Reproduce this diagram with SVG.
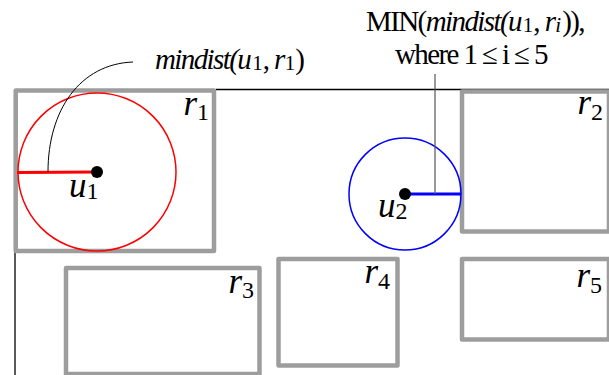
<svg xmlns="http://www.w3.org/2000/svg" width="609" height="375" viewBox="0 0 609 375">
<style>
text{font-family:"Liberation Serif","Times New Roman",serif;fill:#000}
.var{font-size:35px;font-style:italic}
.sub{font-size:24px;font-style:normal}
.lbl{font-size:29px;letter-spacing:-1.6px}
.lbl .sub{font-size:21px;letter-spacing:0}
.it{font-style:italic}
.rect{fill:none;stroke:#9d9d9d;stroke-width:4.5;stroke-linejoin:round}
.frame{stroke:#000;stroke-width:1.3;fill:none}
</style>
<rect width="609" height="375" fill="#fff"/>
<g id="frame">
<line class="frame" x1="216" y1="89.5" x2="609" y2="89.5"/>
<line class="frame" x1="15" y1="252" x2="15" y2="375"/>
</g>
<g id="r1"><rect class="rect" x="15.7" y="90.5" width="198.3" height="160.5"/>
<text class="var" x="209" y="115" text-anchor="end">r<tspan class="sub" dy="5">1</tspan></text></g>
<g id="r2"><rect class="rect" x="462" y="91.5" width="147" height="140"/>
<text class="var" x="603" y="114" text-anchor="end">r<tspan class="sub" dy="6">2</tspan></text></g>
<g id="r3"><rect class="rect" x="66" y="268" width="193.5" height="106"/>
<text class="var" x="254" y="293" text-anchor="end">r<tspan class="sub" dy="5">3</tspan></text></g>
<g id="r4"><rect class="rect" x="278.5" y="259" width="119" height="106.5"/>
<text class="var" x="390" y="283" text-anchor="end">r<tspan class="sub" dy="6">4</tspan></text></g>
<g id="r5"><rect class="rect" x="462" y="259" width="147" height="80.5"/>
<text class="var" x="602" y="287" text-anchor="end">r<tspan class="sub" dy="6">5</tspan></text></g>
<g id="u1">
<circle cx="97" cy="172" r="79" fill="none" stroke="#f00" stroke-width="1.5"/>
<line x1="17" y1="172.5" x2="97" y2="172" stroke="#f00" stroke-width="3"/>
<circle cx="97" cy="172" r="6" fill="#000"/>
<text class="var" x="69" y="197">u<tspan class="sub" dy="2">1</tspan></text>
</g>
<g id="u2">
<circle cx="405" cy="194" r="56" fill="none" stroke="#00f" stroke-width="1.5"/>
<line x1="405" y1="194" x2="461" y2="194" stroke="#00f" stroke-width="3"/>
<circle cx="405" cy="194" r="6" fill="#000"/>
<text class="var" x="378" y="217">u<tspan class="sub" dy="2">2</tspan></text>
</g>
<g id="connectors">
<path d="M48,172 C48,110 80,64 133,62" fill="none" stroke="#000" stroke-width="1"/>
<line x1="435" y1="74" x2="435" y2="194" stroke="#555" stroke-width="1.2"/>
</g>
<g id="label-mindist">
<text class="lbl" x="155" y="69"><tspan class="it">mindist(u</tspan><tspan class="sub" dx="2" dy="1">1</tspan><tspan dy="-1">, </tspan><tspan class="it">r</tspan><tspan class="sub" dx="1" dy="1">1</tspan><tspan dy="-1">)</tspan></text>
</g>
<g id="label-min">
<text class="lbl" x="475" y="31" text-anchor="middle">MIN(<tspan class="it">mindist(u</tspan><tspan class="sub" dx="2" dy="1">1</tspan><tspan dy="-1">, </tspan><tspan class="it">r</tspan><tspan class="sub it" dx="1" dy="1">i</tspan><tspan dx="1" dy="-1">)),</tspan></text>
<text class="lbl" x="471" y="64" text-anchor="middle">where 1 ≤ i ≤ 5</text>
</g>
</svg>
